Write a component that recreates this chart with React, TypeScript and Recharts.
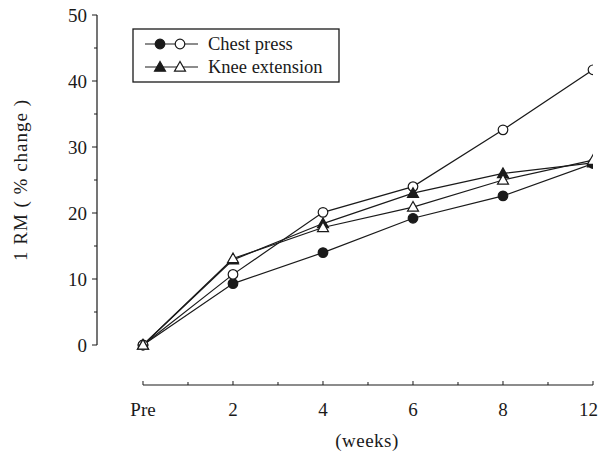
import React from 'react';
import { LineChart, Line, XAxis, YAxis, ReferenceLine } from 'recharts';

const weekLabels = ['Pre', '2', '4', '6', '8', '12'];
const chestPressFilled = [0, 9.3, 14.0, 19.2, 22.6, 27.5];
const chestPressOpen = [0, 10.7, 20.1, 24.0, 32.6, 41.7];
const kneeExtFilled = [0, 12.9, 18.4, 23.0, 26.0, 27.6];
const kneeExtOpen = [0, 13.1, 17.8, 20.9, 25.0, 28.0];
const yTicks = [0, 5, 10, 15, 20, 25, 30, 35, 40, 45, 50];
const xTicks = [0, 0.5, 1, 1.5, 2, 2.5, 3, 3.5, 4, 4.5, 5];

const FONT = '"Liberation Serif", "Times New Roman", serif';
const INK = '#1a1a1a';
const AXIS_DROP = 40;

const data = weekLabels.map((label, i) => ({
  idx: i,
  label,
  cpF: chestPressFilled[i],
  cpO: chestPressOpen[i],
  keF: kneeExtFilled[i],
  keO: kneeExtOpen[i],
}));

function Marker({ cx, cy, shape, filled }: { cx: number; cy: number; shape: 'circle' | 'triangle'; filled: boolean }) {
  const fill = filled ? INK : '#fff';
  if (shape === 'circle') {
    return <circle cx={cx} cy={cy} r={4.8} fill={fill} stroke={INK} strokeWidth={1.2} />;
  }
  const s = 5.5;
  return (
    <polygon
      points={`${cx},${cy - s} ${cx - s},${cy + s * 0.75} ${cx + s},${cy + s * 0.75}`}
      fill={fill}
      stroke={INK}
      strokeWidth={1.2}
    />
  );
}

const dotFor = (shape: 'circle' | 'triangle', filled: boolean) => (props: any) => {
  if (props.cx == null || props.cy == null) return <g key={props.key} />;
  return (
    <g key={`${shape}-${filled}-${props.index}`}>
      <Marker cx={props.cx} cy={props.cy} shape={shape} filled={filled} />
    </g>
  );
};

function XTick({ x, y, payload }: any) {
  const v = payload.value as number;
  const major = Number.isInteger(v);
  const ay = y + AXIS_DROP;
  const last = v === weekLabels.length - 1;
  return (
    <g>
      <line x1={x} y1={ay} x2={x} y2={ay - (major ? 4 : 3)} stroke={INK} strokeWidth={1} />
      {major && (
        <text
          x={last ? x + 5 : x}
          y={ay + 31}
          textAnchor={last ? 'end' : 'middle'}
          fontFamily={FONT}
          fontSize={19}
          fill={INK}
        >
          {weekLabels[v]}
        </text>
      )}
    </g>
  );
}

function YTick({ x, y, payload }: any) {
  const v = payload.value as number;
  const major = v % 10 === 0;
  return (
    <g>
      <line x1={x} y1={y} x2={x - (major ? 5 : 3)} y2={y} stroke={INK} strokeWidth={1} />
      {major && (
        <text x={x - 10} y={y} dy="0.35em" textAnchor="end" fontFamily={FONT} fontSize={19} fill={INK}>
          {v}
        </text>
      )}
    </g>
  );
}

function LegendBox() {
  const rows = [
    { label: 'Chest press', shape: 'circle' as const },
    { label: 'Knee extension', shape: 'triangle' as const },
  ];
  return (
    <svg width={212} height={58} style={{ position: 'absolute', left: 131, top: 27 }}>
      <rect x={2} y={2} width={206} height={53} fill="#fff" stroke={INK} strokeWidth={1.3} />
      {rows.map((r, i) => {
        const cy = 17 + i * 23;
        return (
          <g key={r.label}>
            <line x1={14} y1={cy} x2={67} y2={cy} stroke={INK} strokeWidth={1.2} />
            <Marker cx={29} cy={cy} shape={r.shape} filled />
            <Marker cx={49} cy={cy} shape={r.shape} filled={false} />
            <text x={77} y={cy} dy="0.35em" fontFamily={FONT} fontSize={18.5} fill={INK}>
              {r.label}
            </text>
          </g>
        );
      })}
    </svg>
  );
}

export default function App() {
  return (
    <div style={{ position: 'absolute', left: 0, top: 0, width: 600, height: 455, background: '#fff' }}>
      <LineChart width={600} height={455} data={data} margin={{ top: 15, right: 7, bottom: 0, left: 0 }}>
        <XAxis
          dataKey="idx"
          type="number"
          domain={[-0.511, 5]}
          ticks={xTicks}
          axisLine={false}
          tickLine={false}
          tickSize={0}
          tickMargin={0}
          tick={<XTick />}
          height={110}
          interval={0}
          allowDataOverflow
        />
        <YAxis
          type="number"
          domain={[0, 50]}
          ticks={yTicks}
          width={97}
          axisLine={{ stroke: INK, strokeWidth: 1.2 }}
          tickLine={false}
          tickSize={0}
          tickMargin={0}
          tick={<YTick />}
          interval={0}
          label={{
            value: '1 RM ( % change )',
            angle: -90,
            position: 'insideLeft',
            offset: 20,
            style: { textAnchor: 'middle', fontFamily: FONT, fontSize: 19, letterSpacing: 1, fill: INK },
          }}
        />
        <ReferenceLine
          segment={[{ x: 0, y: -AXIS_DROP / 6.6 }, { x: 5, y: -AXIS_DROP / 6.6 }]}
          stroke={INK}
          strokeWidth={1.2}
          ifOverflow="visible"
        />
        <Line dataKey="cpF" stroke={INK} strokeWidth={1.2} dot={dotFor('circle', true)} isAnimationActive={false} />
        <Line dataKey="cpO" stroke={INK} strokeWidth={1.2} dot={dotFor('circle', false)} isAnimationActive={false} />
        <Line dataKey="keF" stroke={INK} strokeWidth={1.2} dot={dotFor('triangle', true)} isAnimationActive={false} />
        <Line dataKey="keO" stroke={INK} strokeWidth={1.2} dot={dotFor('triangle', false)} isAnimationActive={false} />
      </LineChart>
      <LegendBox />
      <div
        style={{
          position: 'absolute',
          left: 0,
          width: 734,
          top: 430,
          textAlign: 'center',
          fontFamily: FONT,
          fontSize: 19,
          letterSpacing: 0.5,
          color: INK,
        }}
      >
        (weeks)
      </div>
    </div>
  );
}
